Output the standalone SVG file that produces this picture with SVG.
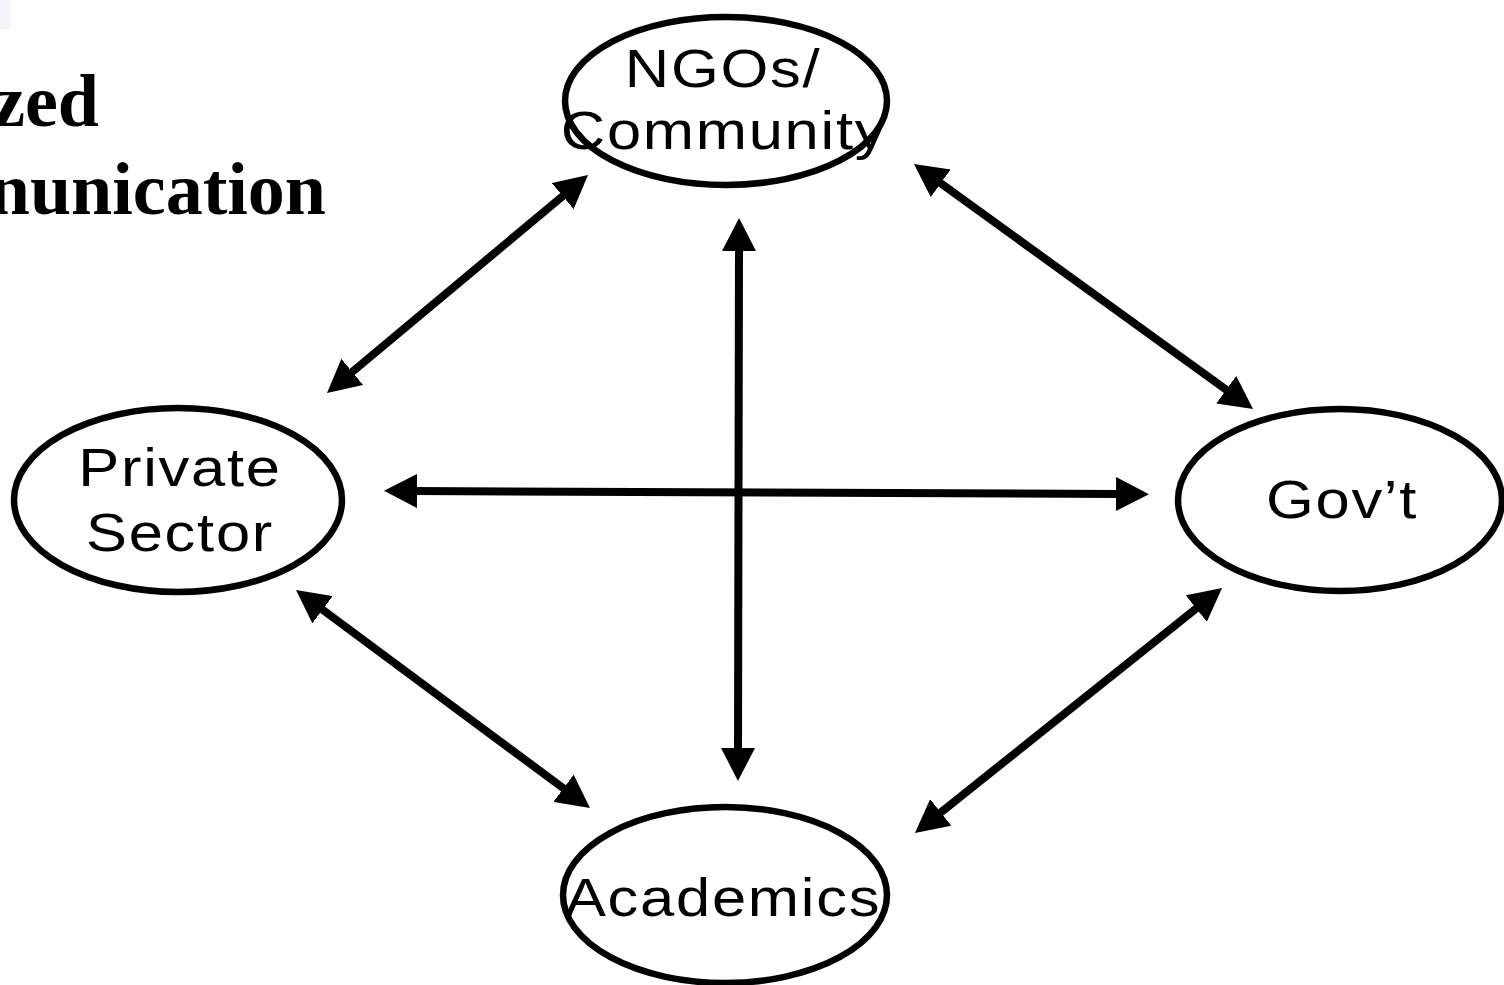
<svg xmlns="http://www.w3.org/2000/svg" width="1504" height="985" viewBox="0 0 1504 985">
<style>
.node{fill:#ffffff;stroke:#000;stroke-width:6.5}
.lbl{font-family:"Liberation Sans",Arial,sans-serif;font-size:53px;letter-spacing:1.5px;fill:#000;text-anchor:middle}
.title{font-family:"Liberation Serif","Times New Roman",serif;font-weight:bold;font-size:74px;fill:#000;text-anchor:end}
.conn{stroke:#000;stroke-width:8;fill:none;marker-start:url(#ah);marker-end:url(#ah)}
</style>
<defs>
<marker id="ah" markerUnits="userSpaceOnUse" markerWidth="34" markerHeight="34" refX="3" refY="17" orient="auto-start-reverse" viewBox="0 0 34 34">
<path d="M0,0 L33,17 L0,34 z" fill="#000"/>
</marker>
</defs>
<rect width="1504" height="985" fill="#fff"/>
<rect x="0" y="0" width="11" height="29" fill="#f4f4fa"/>
<g id="title">
<text class="title" x="99" y="126">zed</text>
<text class="title" x="326" y="214">nunication</text>
</g>
<g id="connectors">
<line class="conn" x1="565" y1="194.2" x2="350" y2="373.8"/>
<line class="conn" x1="938.3" y1="181.6" x2="1228.7" y2="391.4"/>
<line class="conn" x1="739" y1="248" x2="738" y2="751"/>
<line class="conn" x1="414" y1="491" x2="1119" y2="494"/>
<line class="conn" x1="320.1" y1="607.9" x2="565.9" y2="790.1"/>
<line class="conn" x1="1198.6" y1="606.7" x2="938.4" y2="814.3"/>
</g>
<g id="ngos">
<ellipse class="node" cx="726" cy="101" rx="161" ry="84"/>
<text class="lbl" transform="translate(723,87) scale(1.16,1)">NGOs/</text>
<text class="lbl" transform="translate(724,149) scale(1.16,1)">Community</text>
</g>
<g id="private">
<ellipse class="node" cx="178" cy="500" rx="164" ry="92"/>
<text class="lbl" transform="translate(180,486) scale(1.16,1)">Private</text>
<text class="lbl" transform="translate(180,551) scale(1.16,1)">Sector</text>
</g>
<g id="govt">
<ellipse class="node" cx="1340" cy="500" rx="162" ry="91"/>
<text class="lbl" transform="translate(1342,518) scale(1.16,1)">Gov’t</text>
</g>
<g id="academics">
<ellipse class="node" cx="725" cy="895" rx="162" ry="88"/>
<text class="lbl" transform="translate(723,916) scale(1.16,1)">Academics</text>
</g>
</svg>
